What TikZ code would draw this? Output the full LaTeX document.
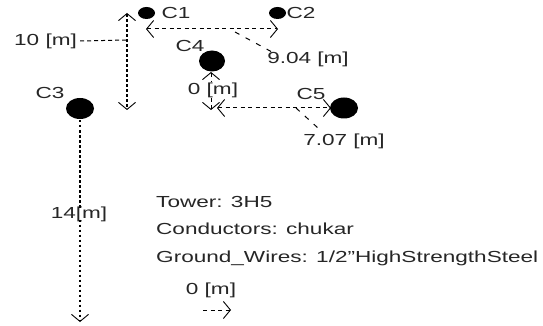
\documentclass[tikz,border=0pt]{standalone}
\usepackage{fontspec}
\setmainfont[FakeStretch=1.41]{Liberation Sans}
\usetikzlibrary{arrows.meta,shapes.geometric}
\tikzset{
  wire/.style 2 args={ellipse,fill=black,inner sep=0pt,minimum width=#1,minimum height=#2},
  lbl/.style={inner sep=0pt,font=\fontsize{16}{18}\selectfont,text=black!85},
  barb/.tip={Straight Barb[length=7pt,width=17pt,line width=0.9pt]},
  dim/.style={line width=1pt,dash pattern=on 4pt off 3.5pt,barb-barb},
  vdim/.style={dim,dash pattern=on 2.5pt off 2.5pt,line width=1.3pt},
  onetip/.style={line width=1pt,dash pattern=on 4pt off 3.5pt,-barb},
  leader/.style={line width=1pt,dash pattern=on 5pt off 7pt}
}
\begin{document}
\begin{tikzpicture}[x=1pt,y=-1pt]
\useasboundingbox (0,0) rectangle (543,326);
% conductors
\node[wire={17pt}{12pt}] (c1) at (146.5,13) {};
\node[wire={17pt}{12pt}] (c2) at (277.5,13) {};
\node[wire={26pt}{21pt}] (c4) at (212,61) {};
\node[wire={28pt}{21pt}] (c3) at (80,108.5) {};
\node[wire={28pt}{21pt}] (c5) at (344,108) {};
% labels
\node[lbl] (l1) at (176,13) {C1};
\node[lbl] (l2) at (301,13) {C2};
\node[lbl] (l4) at (190,46) {C4};
\node[lbl] (l3) at (50,93) {C3};
\node[lbl] (l5) at (311,94) {C5};
\node[lbl,anchor=west] (d10) at (14,41) {10 [m]};
\node[lbl] (d904) at (308,59) {9.04 [m]};
\node[lbl] (d0) at (213,90) {0 [m]};
\node[lbl] (d707) at (344,141) {7.07 [m]};
\node[lbl] (d14) at (79,214) {14[m]};
\node[lbl,anchor=west] (t1) at (156,202) {Tower: 3H5};
\node[lbl,anchor=west] (t2) at (156,229) {Conductors: chukar};
\node[lbl,anchor=west] (t3) at (156,258) {Ground\_Wires: 1/2"HighStrengthSteel};
\node[lbl] (d00) at (211,290) {0 [m]};
% connector ends
\coordinate (v1a) at (127,13);
\coordinate (v1b) at (127,110);
\coordinate (m1) at (127,40);
\coordinate (h1a) at (146,29);
\coordinate (h1b) at (278,29);
\coordinate (m2) at (235,32);
\coordinate (e2) at (272,52);
\coordinate (v4a) at (211,72);
\coordinate (v4b) at (211,110);
\coordinate (h5a) at (217,108);
\coordinate (h5b) at (331,108);
\coordinate (m5) at (296,108);
\coordinate (e5) at (318,128);
\coordinate (v3a) at (80,120);
\coordinate (v3b) at (80,322);
\coordinate (a0) at (203,310);
\coordinate (a1) at (231,310);
% connectors
\draw[vdim] (v1a) -- (v1b);
\draw[leader,dash pattern=on 4pt off 3pt] ([xshift=3pt]d10.east) -- (m1);
\draw[dim] (h1a) -- (h1b);
\draw[leader] (m2) -- (e2);
\draw[dim,barb-] (v4a) -- (d0.north -| v4a);
\draw[dim,-barb] (d0.south -| v4b) -- (v4b);
\draw[dim] (h5a) -- (h5b);
\draw[leader] (m5) -- (e5);
\draw[vdim,-] (v3a) -- ([yshift=-2pt]d14.north -| v3a);
\draw[vdim,-barb] ([yshift=2pt]d14.south -| v3b) -- (v3b);
\draw[onetip] (a0) -- (a1);
\end{tikzpicture}
\end{document}
